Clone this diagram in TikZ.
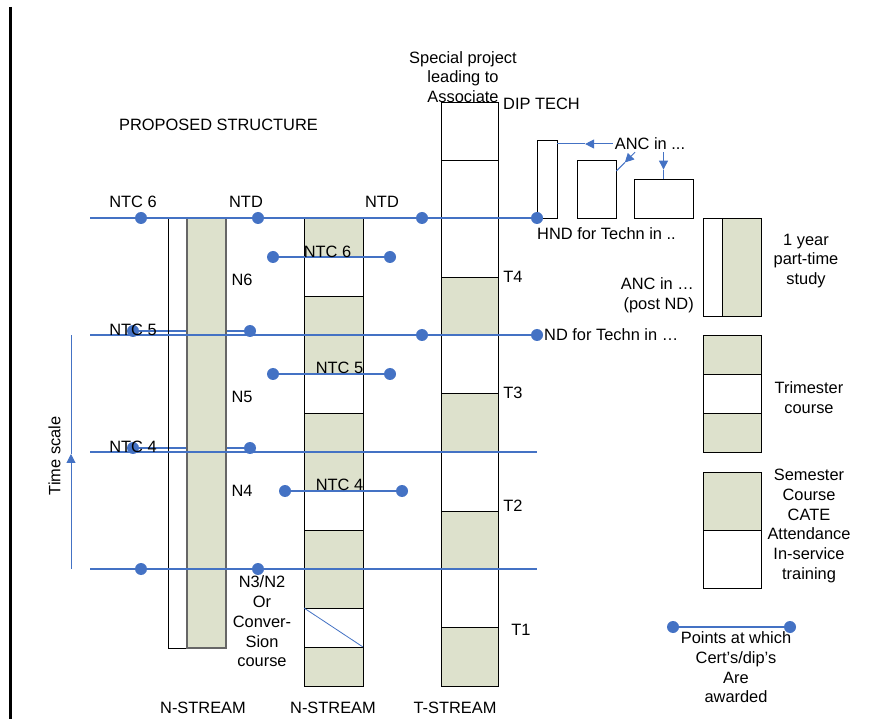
\documentclass[tikz,border=0pt]{standalone}
\usepackage{fontspec}
\setmainfont{Liberation Sans}
\usetikzlibrary{arrows.meta}
\definecolor{ptblue}{HTML}{4472C4}
\definecolor{ptgreen}{HTML}{DDE1CC}

\begin{document}
\begin{tikzpicture} [x=1pt, y=-1pt, font=\fontsize{16.4}{19.7}\selectfont,
        dot/.style={circle, fill=ptblue, inner sep=0pt, minimum size=12pt},
        link/.style={ptblue, line width=1.1pt},
        cell/.style={draw=black, line width=0.9pt},
        box/.style={cell, inner sep=0pt},
        lbl/.style={inner sep=0pt, align=center},
        tip/.style={-{Triangle[length=9pt,width=9pt]}}]
        \useasboundingbox (0,0) rectangle (879,719);
        \draw[line width=3pt] (10,7) -- (10,719);

        \node (ntc5) [dot] at (133,331) {};
        \node (n5) [dot] at (250,331) {};
        \node (ntc4) [dot] at (133,448) {};
        \node (n4) [dot] at (250,448) {};
        \draw[link] (ntc5) -- (n5);
        \draw[link] (ntc4) -- (n4);

        \draw[cell] (168,218) rectangle (187,648);
        \draw[fill=ptgreen, draw=black!60, line width=1.5pt] (187,218) rectangle (226,648);
        \foreach \i in {0,...,11} {
            \pgfmathtruncatemacro\m{mod(\i,3)}
            \ifnum\m=1 \def\fc{white}\else\def\fc{ptgreen}\fi
            \draw[cell, fill=\fc] (304,{218+39*\i}) rectangle (363,{257+39*\i});
        }
        \draw[link, line width=0.8pt] (304,608) -- (363,647);
        \foreach \ya/\yb/\fc in {102/160/white, 160/277/white, 277/335/ptgreen,
            335/393/white, 393/452/ptgreen, 452/511/white, 511/569/ptgreen,
            569/627/white, 627/686/ptgreen}
            \draw[cell, fill=\fc] (441,\ya) rectangle (498,\yb);

        \draw[cell] (703,218) rectangle (722,316);
        \draw[cell, fill=ptgreen] (722,218) rectangle (761,316);
        \foreach \ya/\yb/\fc in {335/374/ptgreen, 374/413/white, 413/452/ptgreen,
            472/530/ptgreen, 530/588/white}
            \draw[cell, fill=\fc] (703,\ya) rectangle (761,\yb);

        \node (hndA) [box, minimum width=20pt, minimum height=78pt] at (547,179) {};
        \node (hndB) [box, minimum width=39pt, minimum height=58pt] at (596.5,189) {};
        \node (hndC) [box, minimum width=59pt, minimum height=39pt] at (663.5,198.5) {};
        \node (ancTop) [inner sep=2pt] at (650,144) {ANC in ...};
        \path (ancTop.west) -- (ancTop.west -| hndA.east) coordinate[pos=0.5] (mA);
        \path ([xshift=-15pt]ancTop.south) -- ([yshift=18pt]hndB.east) coordinate[pos=0.55] (mB);
        \path (ancTop.south -| hndC.north) -- (hndC.north) coordinate[pos=0.66] (mC);
        \draw[link, line width=1pt, tip] (ancTop.west) -- (mA);
        \draw[link, line width=1pt] (mA) -- (ancTop.west -| hndA.east);
        \draw[link, line width=1pt, tip] ([xshift=-15pt]ancTop.south) -- (mB);
        \draw[link, line width=1pt] (mB) -- ([yshift=18pt]hndB.east);
        \draw[link, line width=1pt, tip] (ancTop.south -| hndC.north) -- (mC);
        \draw[link, line width=1pt] (mC) -- (hndC.north);

        \node (ntc6) [dot] at (141,218) {};
        \node (ntd6) [dot] at (258,218) {};
        \node (ntdT) [dot] at (422,218) {};
        \node (hnd) [dot] at (537,218) {};
        \node (tnd) [dot] at (422,335) {};
        \node (nd) [dot] at (537,335) {};
        \node (n3) [dot] at (141,569) {};
        \node (n3b) [dot] at (258,569) {};
        \node (a6) [dot] at (273,257) {};
        \node (b6) [dot] at (390,257) {};
        \node (a5) [dot] at (273,374) {};
        \node (b5) [dot] at (390,374) {};
        \node (a4) [dot] at (285,491) {};
        \node (b4) [dot] at (402,491) {};
        \node (keyA) [dot] at (673,627) {};
        \node (keyB) [dot] at (790,627) {};
        \coordinate (s6) at (90,218);
        \coordinate (s5) at (90,335);
        \coordinate (s4) at (90,452);
        \coordinate (s3) at (90,569);
        \coordinate (e4) at (537,452);
        \coordinate (e3) at (537,569);
        \coordinate (tsBot) at (71,569);
        \coordinate (tsMid) at (71,454);
        \coordinate (tsTop) at (71,335);

        \draw[link] (s6) -- (hnd);
        \draw[link] (s5) -- (nd);
        \draw[link] (s4) -- (e4);
        \draw[link] (s3) -- (e3);
        \draw[link] (a6) -- (b6);
        \draw[link] (a5) -- (b5);
        \draw[link] (a4) -- (b4);
        \draw[link] (keyA) -- (keyB);
        \draw[link, line width=1pt, tip] (tsBot) -- (tsMid);
        \draw[link, line width=1pt] (tsMid) -- (tsTop);

        \node (title) [lbl] at (218.5,125) {PROPOSED STRUCTURE};
        \node (special) [lbl] at (463,77) {Special project\\leading to\\Associate};
        \node (dip) [lbl, anchor=west] at (503,104) {DIP TECH};
        \node (tNtc6) [lbl] at (133,202) {NTC 6};
        \node (tNtd1) [lbl] at (246,202) {NTD};
        \node (tNtd2) [lbl] at (382,202) {NTD};
        \node (tNtc5) [lbl] at (133,330) {NTC 5};
        \node (tNtc4) [lbl] at (133,447) {NTC 4};
        \node (tA6) [lbl] at (327.5,252) {NTC 6};
        \node (tA5) [lbl] at (339.5,368) {NTC 5};
        \node (tA4) [lbl] at (339.5,485) {NTC 4};
        \node (tN6) [lbl] at (242,280) {N6};
        \node (tN5) [lbl] at (242,397) {N5};
        \node (tN4) [lbl] at (242,491) {N4};
        \node (tN3) [lbl] at (262,621.5) {N3/N2\\Or\\Conver-\\Sion\\course};
        \node (tT4) [lbl] at (513,277) {T4};
        \node (tT3) [lbl] at (513,393) {T3};
        \node (tT2) [lbl] at (513,506) {T2};
        \node (tT1) [lbl] at (521,630) {T1};
        \node (tHnd) [lbl, anchor=west] at (537,234) {HND for Techn in ..};
        \node (tNd) [lbl, anchor=west] at (544,335) {ND for Techn in …};
        \node (tAnc) [lbl, anchor=east, align=right] at (694,295.5) {ANC in …\\(post ND)};
        \node (tYear) [lbl] at (806,261) {1 year\\part-time\\study};
        \node (tTri) [lbl] at (809,397.5) {Trimester\\course};
        \node (tSem) [lbl] at (809,526) {Semester\\Course\\CATE\\Attendance\\In-service\\training};
        \node (tKey) [lbl] at (736,667.5) {Points at which\\Cert’s/dip’s\\Are\\awarded};
        \node (tTime) [lbl, rotate=90] at (54.5,456) {Time scale};
        \node (sN1) [lbl] at (203,708) {N-STREAM};
        \node (sN2) [lbl] at (333,708) {N-STREAM};
        \node (sT) [lbl] at (455,708) {T-STREAM};
    \end{tikzpicture}
\end{document}
